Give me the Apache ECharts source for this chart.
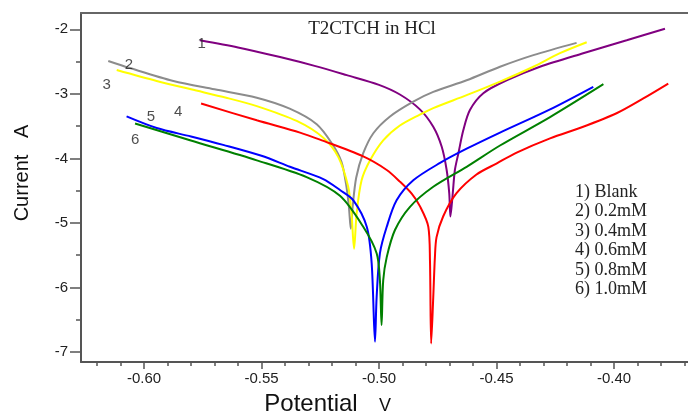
<!DOCTYPE html>
<html>
<head>
<meta charset="utf-8">
<script src="https://cdn.jsdelivr.net/npm/echarts@6/dist/echarts.min.js"></script>
<style>
  html, body { margin: 0; padding: 0; background: #fff; }
  #chart { width: 688px; height: 413px; }
</style>
</head>
<body>
<div id="chart"></div>
<script>
// Tafel curves, [potential V, log current]
var blank = [[-0.5762,-2.17],[-0.5600,-2.28],[-0.5421,-2.43],[-0.5270,-2.57],[-0.5137,-2.71],[-0.5000,-2.86],
  [-0.4911,-3.01],[-0.4826,-3.24],[-0.4769,-3.51],[-0.4733,-3.82],[-0.4712,-4.18],[-0.4701,-4.54],[-0.4696,-4.90],
  [-0.4686,-4.54],[-0.4677,-4.18],[-0.4662,-3.92],[-0.4641,-3.56],[-0.4613,-3.25],[-0.4556,-2.99],[-0.4457,-2.79],
  [-0.4315,-2.58],[-0.4131,-2.37],[-0.3946,-2.17],[-0.3783,-1.99]];
var c02 = [[-0.6152,-2.49],[-0.6060,-2.60],[-0.5875,-2.80],[-0.5700,-2.93],[-0.5520,-3.06],[-0.5380,-3.23],
  [-0.5265,-3.47],[-0.5200,-3.77],[-0.5160,-4.05],[-0.5140,-4.40],[-0.5128,-4.75],[-0.5120,-5.09],
  [-0.5112,-4.75],[-0.5097,-4.30],[-0.5067,-3.92],[-0.5024,-3.61],[-0.4953,-3.35],[-0.4854,-3.12],[-0.4769,-2.97],
  [-0.4627,-2.79],[-0.4485,-2.58],[-0.4343,-2.40],[-0.4159,-2.21]];
var c04 = [[-0.6116,-2.63],[-0.5946,-2.80],[-0.5800,-2.93],[-0.5650,-3.06],[-0.5520,-3.19],[-0.5350,-3.42],
  [-0.5237,-3.68],[-0.5173,-3.98],[-0.5131,-4.44],[-0.5117,-4.85],[-0.5106,-5.40],
  [-0.5095,-4.85],[-0.5074,-4.34],[-0.5038,-4.03],[-0.4982,-3.72],[-0.4911,-3.49],[-0.4826,-3.32],[-0.4769,-3.22],
  [-0.4627,-3.02],[-0.4485,-2.81],[-0.4343,-2.58],[-0.4230,-2.37],[-0.4116,-2.20]];
var c06 = [[-0.5757,-3.15],[-0.5520,-3.41],[-0.5336,-3.60],[-0.5251,-3.71],[-0.5067,-3.97],[-0.4967,-4.18],
  [-0.4911,-4.36],[-0.4860,-4.55],[-0.4826,-4.74],[-0.4790,-5.06],[-0.4783,-5.58],[-0.4778,-6.87],
  [-0.4769,-6.15],[-0.4762,-5.53],[-0.4755,-5.22],[-0.4727,-4.90],[-0.4670,-4.54],[-0.4585,-4.25],[-0.4500,-4.08],
  [-0.4414,-3.91],[-0.4272,-3.69],[-0.4131,-3.51],[-0.3989,-3.30],[-0.3875,-3.07],[-0.3769,-2.84]];
var c08 = [[-0.6074,-3.35],[-0.5946,-3.53],[-0.5800,-3.66],[-0.5663,-3.79],[-0.5500,-3.96],[-0.5379,-4.13],
  [-0.5237,-4.32],[-0.5166,-4.49],[-0.5109,-4.65],[-0.5052,-5.06],[-0.5031,-5.63],[-0.5017,-6.84],
  [-0.5010,-6.15],[-0.4996,-5.47],[-0.4967,-5.06],[-0.4925,-4.65],[-0.4854,-4.34],[-0.4740,-4.07],[-0.4627,-3.85],
  [-0.4485,-3.60],[-0.4272,-3.24],[-0.4088,-2.89]];
var c10 = [[-0.6038,-3.46],[-0.5804,-3.72],[-0.5520,-4.03],[-0.5308,-4.29],[-0.5166,-4.58],[-0.5067,-5.06],
  [-0.5010,-5.47],[-0.4996,-5.89],[-0.4989,-6.58],
  [-0.4982,-5.89],[-0.4967,-5.53],[-0.4932,-5.11],[-0.4868,-4.75],[-0.4769,-4.44],[-0.4627,-4.13],[-0.4485,-3.80],
  [-0.4272,-3.36],[-0.4045,-2.85]];

var curveNames = ['1', '2', '3', '4', '5', '6'];
var curveColors = ['#800080', '#8c8c8c', '#ffff00', '#ff0000', '#0000ff', '#008000'];
var curveLabelPos = [[-0.5755,-2.228],[-0.6064,-2.554],[-0.6159,-2.864],[-0.5854,-3.278],[-0.5970,-3.355],[-0.6038,-3.716]];
var legendLines = ['1) Blank', '2) 0.2mM', '3) 0.4mM', '4) 0.6mM', '5) 0.8mM', '6) 1.0mM'];

var potentialTicks = [-0.60, -0.55, -0.50, -0.45, -0.40];
var potentialMinor = [-0.62,-0.61,-0.60,-0.59,-0.58,-0.57,-0.56,-0.55,-0.54,-0.53,-0.52,-0.51,-0.50,
  -0.49,-0.48,-0.47,-0.46,-0.45,-0.44,-0.43,-0.42,-0.41,-0.40,-0.39,-0.38,-0.37];
var currentTicks = [-7, -6, -5, -4, -3, -2];
var currentMinor = [-7,-6.5,-6,-5.5,-5,-4.5,-4,-3.5,-3,-2.5,-2];

var xMin = -0.6268, xMax = -0.3685;
var yMin = -7.155, yMax = -1.747;
var axisCol = '#555';

var chart = echarts.init(document.getElementById('chart'));

var curves = [blank, c02, c04, c06, c08, c10];
var series = curves.map(function (d, i) {
  return {
    type: 'line', name: curveNames[i], data: d,
    xAxisIndex: 0, yAxisIndex: 0,
    showSymbol: false, symbol: 'none',
    smooth: 0.3,
    lineStyle: { color: curveColors[i], width: 2 },
    z: 3
  };
});
series.push({
  type: 'scatter',
  xAxisIndex: 0, yAxisIndex: 0,
  symbolSize: 0,
  data: curveLabelPos.map(function (p, i) { return [p[0], p[1], curveNames[i]]; }),
  label: {
    show: true, position: 'inside',
    formatter: function (p) { return p.value[2]; },
    fontSize: 15, color: '#222',
    fontFamily: 'Liberation Sans'
  },
  z: 5
});

var legendGraphics = legendLines.map(function (t, i) {
  return {
    type: 'text', left: 575, top: 183 + i * 19.5,
    style: { text: t, font: '18px "Liberation Serif"', fill: '#222' }
  };
});

chart.setOption({
  animation: false,
  grid: { left: 81, right: 0, top: 13, bottom: 51 },
  xAxis: [{
    type: 'value', position: 'bottom', min: xMin, max: xMax,
    minInterval: 0.05, maxInterval: 0.05,
    axisLine: { lineStyle: { color: axisCol, width: 2 } },
    axisTick: { length: 7, lineStyle: { color: axisCol, width: 1.5 }, customValues: potentialTicks },
    axisLabel: {
      customValues: potentialTicks, margin: 9, fontSize: 15, color: '#222',
      fontFamily: 'Liberation Sans',
      formatter: function (v) { return v.toFixed(2); }
    },
    splitLine: { show: false }
  }, {
    type: 'value', position: 'bottom', min: xMin, max: xMax,
    minInterval: 0.01, maxInterval: 0.01,
    axisLine: { show: false },
    axisTick: { length: 4, lineStyle: { color: axisCol, width: 1.5 }, customValues: potentialMinor },
    axisLabel: { show: false },
    splitLine: { show: false }
  }, {
    type: 'value', position: 'top', min: xMin, max: xMax,
    axisLine: { lineStyle: { color: '#666', width: 2 } },
    axisTick: { show: false }, axisLabel: { show: false },
    splitLine: { show: false }
  }],
  yAxis: [{
    type: 'value', position: 'left', min: yMin, max: yMax,
    minInterval: 1, maxInterval: 1,
    axisLine: { show: true, lineStyle: { color: axisCol, width: 2 } },
    axisTick: { show: true, length: 11, lineStyle: { color: axisCol, width: 1.5 }, customValues: currentTicks },
    axisLabel: {
      customValues: currentTicks, margin: 13, fontSize: 15, color: '#222',
      fontFamily: 'Liberation Sans', padding: [0, 0, 10, 0]
    },
    splitLine: { show: false }
  }, {
    type: 'value', position: 'left', min: yMin, max: yMax,
    minInterval: 0.5, maxInterval: 0.5,
    axisLine: { show: false },
    axisTick: { show: true, length: 5, lineStyle: { color: axisCol, width: 1.5 }, customValues: currentMinor },
    axisLabel: { show: false },
    splitLine: { show: false }
  }],
  graphic: [
    { type: 'text', x: 372, y: 29,
      style: { text: 'T2CTCH in HCl', font: '19px "Liberation Serif"', fill: '#222', align: 'center', verticalAlign: 'middle' } },
    { type: 'text', x: 22, y: 173, rotation: Math.PI / 2,
      style: { text: 'Current   A', font: '20px "Liberation Sans"', fill: '#111', align: 'center', verticalAlign: 'middle' } },
    { type: 'text', x: 311, y: 404,
      style: { text: 'Potential', font: '24px "Liberation Sans"', fill: '#111', align: 'center', verticalAlign: 'middle' } },
    { type: 'text', x: 385, y: 406,
      style: { text: 'V', font: '18px "Liberation Sans"', fill: '#111', align: 'center', verticalAlign: 'middle' } }
  ].concat(legendGraphics),
  series: series
});
</script>
</body>
</html>
